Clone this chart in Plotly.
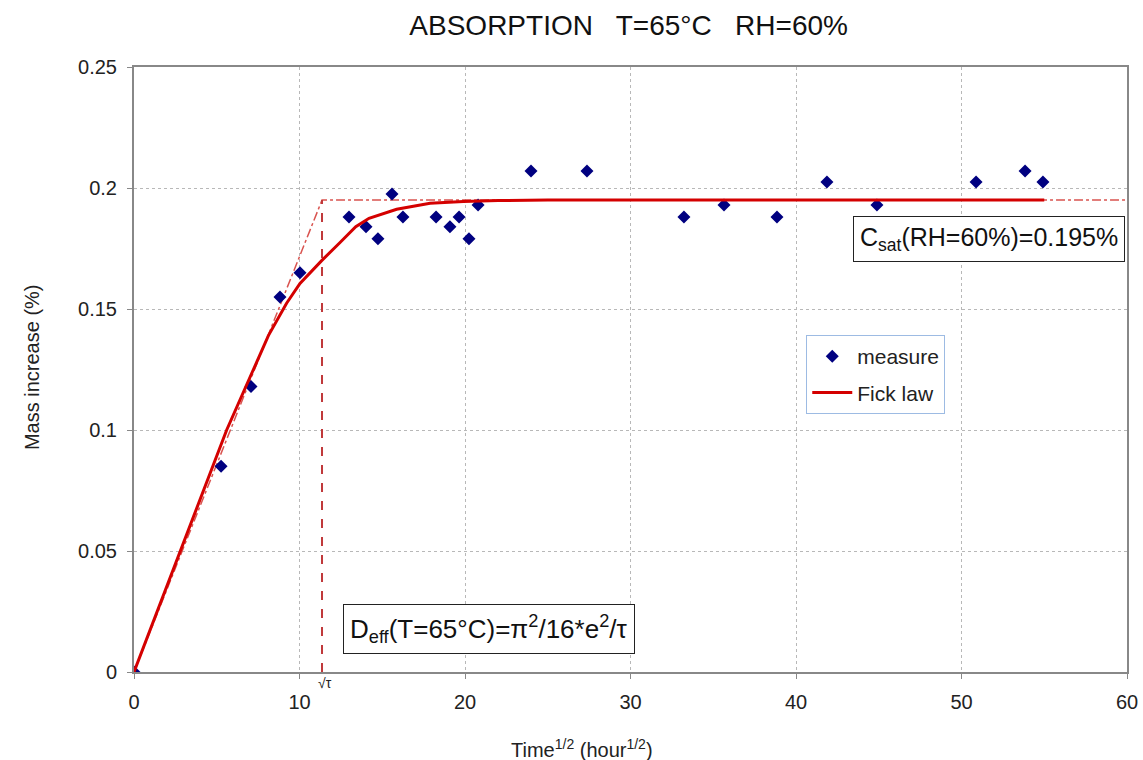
import plotly.graph_objects as go

# measured data
meas_x = [0, 5.26, 7.07, 8.82, 10.03, 12.99, 14.02, 14.74, 15.59, 16.25, 18.25, 19.09, 19.64,
          20.24, 20.79, 23.99, 27.37, 33.23, 35.65, 38.85, 41.87, 44.89, 50.88, 53.84, 54.92]
meas_y = [0, 0.085, 0.118, 0.155, 0.165, 0.188, 0.184, 0.179, 0.1975, 0.188, 0.188, 0.184, 0.188,
          0.179, 0.193, 0.207, 0.207, 0.188, 0.193, 0.188, 0.2025, 0.193, 0.2025, 0.207, 0.2025]

# Fick law curve
fick_x = [0, 5.6, 8.12, 9.22, 10.03, 11.34, 12.45, 13.4, 14.2, 15.87, 17.89, 19.9, 22, 25, 55]
fick_y = [0, 0.100, 0.139, 0.1524, 0.1606, 0.170, 0.1775, 0.1840, 0.1875, 0.1912, 0.1937, 0.1944,
          0.1948, 0.195, 0.195]

sqrt_tau = 11.36
c_sat = 0.195
x_max = 60

tangent_x = [0, sqrt_tau, x_max]
tangent_y = [0, c_sat, c_sat]
vline_x = [sqrt_tau, sqrt_tau]
vline_y = [0, c_sat]

FONT = "Liberation Sans, Arial, sans-serif"

fig = go.Figure()
fig.add_trace(go.Scatter(x=tangent_x, y=tangent_y, mode="lines", showlegend=False,
                         line=dict(color="#d9534f", width=1.5, dash="dashdot"), hoverinfo="skip"))
fig.add_trace(go.Scatter(x=vline_x, y=vline_y, mode="lines", showlegend=False,
                         line=dict(color="#c0393b", width=2, dash="dash"), hoverinfo="skip"))
fig.add_trace(go.Scatter(x=meas_x, y=meas_y, mode="markers", name="measure", legendgroup="a",
                         marker=dict(symbol="diamond", color="#000080", size=10)))
fig.add_trace(go.Scatter(x=fick_x, y=fick_y, mode="lines", name="Fick law", legendgroup="b",
                         line=dict(color="#d40000", width=3)))

axis_common = dict(showgrid=True, gridcolor="#b8b8b8", griddash="dot", gridwidth=1,
                   zeroline=False, showline=True, linecolor="#888", linewidth=2, mirror=True,
                   ticks="outside", ticklen=5, tickcolor="#888", automargin=False,
                   tickfont=dict(size=20, color="#222"), ticklabelstandoff=6)

fig.update_layout(
    width=1143, height=760,
    margin=dict(l=134, r=16, t=67, b=88),
    paper_bgcolor="white", plot_bgcolor="white",
    font=dict(family=FONT, color="#222", size=18),
    title=dict(text="ABSORPTION   T=65°C   RH=60%", x=0.55, xanchor="center", y=0.967,
               yanchor="middle", font=dict(size=28, color="#111")),
    xaxis=dict(range=[0, 60], dtick=10, **axis_common),
    yaxis=dict(range=[0, 0.25], dtick=0.05, tickformat="~g", **axis_common),
    legend=dict(x=0.677, y=0.557, xanchor="left", yanchor="top", bgcolor="white",
                bordercolor="#9dbbe3", borderwidth=1, font=dict(size=21),
                tracegroupgap=6, itemwidth=40),
    showlegend=True,
)

# axis titles
fig.add_annotation(x=(582 - 134) / 993, y=-0.126, xref="paper", yref="paper",
                   text="Time<sup>1/2</sup> (hour<sup>1/2</sup>)", showarrow=False,
                   font=dict(size=20, color="#222"), xanchor="center", yanchor="middle")
fig.add_annotation(x=-0.1027, y=0.504, xref="paper", yref="paper", textangle=-90,
                   text="Mass increase (%)", showarrow=False,
                   font=dict(size=20, color="#222"), xanchor="center", yanchor="middle")

fig.add_annotation(x=51.66, y=0.179, xref="x", yref="y",
                   text="C<sub>sat</sub>(RH=60%)=0.195%", showarrow=False,
                   font=dict(size=25, color="#111"), bgcolor="white", bordercolor="#222",
                   borderwidth=1, borderpad=6)
fig.add_annotation(x=21.42, y=0.0178, xref="x", yref="y",
                   text="D<sub>eff</sub>(T=65°C)=π<sup>2</sup>/16*e<sup>2</sup>/τ", showarrow=False,
                   font=dict(size=26, color="#111"), bgcolor="white", bordercolor="#222",
                   borderwidth=1, borderpad=6)
fig.add_annotation(x=sqrt_tau, y=0, xref="x", yref="paper", yanchor="top", xanchor="center",
                   text="√τ", showarrow=False, font=dict(size=14, color="#222"), yshift=-1, xshift=3)

fig.write_html("out.html")
